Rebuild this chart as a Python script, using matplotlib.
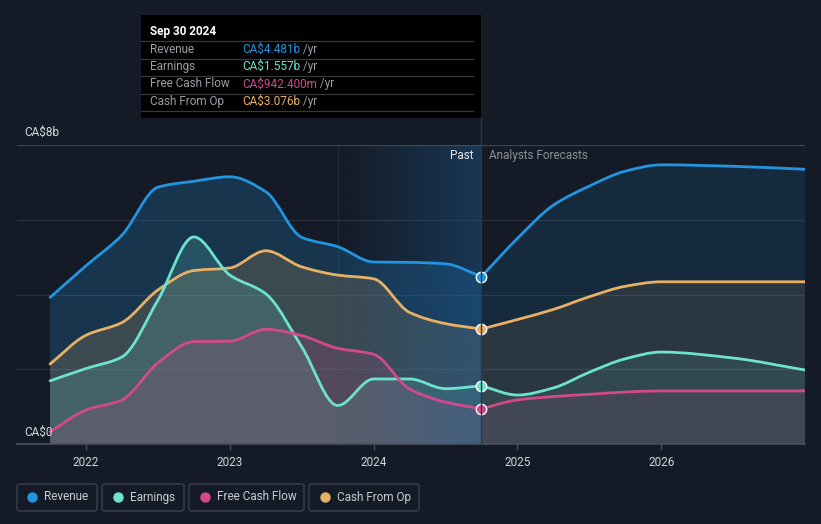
import matplotlib
matplotlib.use("Agg")
import matplotlib.pyplot as plt
import numpy as np
from matplotlib.patches import FancyBboxPatch, Rectangle, PathPatch
from matplotlib.path import Path
from matplotlib.lines import Line2D

# ---------------- data (CA$ billions) ----------------
past_t = [2021.75, 2022.0, 2022.25, 2022.5, 2022.75, 2023.0, 2023.25,
          2023.5, 2023.75, 2024.0, 2024.25, 2024.5, 2024.75]
fc_t = [2024.75, 2025.0, 2025.25, 2025.5, 2025.75, 2026.0, 2026.5, 2027.0]

revenue_past = [3.92, 4.77, 5.59, 6.87, 7.03, 7.15, 6.75, 5.53, 5.28, 4.87, 4.86, 4.82, 4.481]
revenue_fc = [4.481, 5.50, 6.39, 6.90, 7.30, 7.47, 7.43, 7.35]

earnings_past = [1.69, 2.02, 2.33, 3.85, 5.54, 4.52, 4.02, 2.60, 1.03, 1.74, 1.74, 1.48, 1.557]
earnings_fc = [1.557, 1.31, 1.50, 1.92, 2.28, 2.46, 2.30, 1.98]

fcf_past = [0.33, 0.91, 1.18, 2.17, 2.74, 2.75, 3.07, 2.90, 2.56, 2.40, 1.47, 1.12, 0.942]
fcf_fc = [0.942, 1.18, 1.27, 1.33, 1.39, 1.42, 1.42, 1.42]

cfo_past = [2.14, 2.91, 3.25, 4.12, 4.64, 4.71, 5.17, 4.74, 4.52, 4.42, 3.52, 3.22, 3.076]
cfo_fc = [3.076, 3.33, 3.60, 3.94, 4.22, 4.34, 4.34, 4.34]

year_ticks = [2022, 2023, 2024, 2025, 2026]
year_labels = ["2022", "2023", "2024", "2025", "2026"]

tooltip_date = "Sep 30 2024"
tooltip_rows = [("Revenue", "CA$4.481b"), ("Earnings", "CA$1.557b"),
                ("Free Cash Flow", "CA$942.400m"), ("Cash From Op", "CA$3.076b")]
legend_names = ["Revenue", "Earnings", "Free Cash Flow", "Cash From Op"]

# ---------------- style ----------------
BG = "#151b26"
C_REV = "#2394df"
C_EARN = "#6de3cc"
C_FCF = "#d4498a"
C_CFO = "#e8b064"
FONT = ["Roboto", "DejaVu Sans"]
plt.rcParams['font.family'] = FONT

W, H = 821, 524
fig = plt.figure(figsize=(W / 100, H / 100), dpi=100)
fig.patch.set_facecolor(BG)


def fx(px):
    return px / W


def fy(py):
    return 1 - py / H


def curve_vertices(x, y):
    """Bezier control points (monotone cubic tangents) through the data points."""
    x = np.asarray(x, float)
    y = np.asarray(y, float)
    n = len(x)
    h = np.diff(x)
    d = np.diff(y) / h
    m = np.zeros(n)
    m[0], m[-1] = d[0], d[-1]
    for i in range(1, n - 1):
        if d[i - 1] * d[i] <= 0:
            m[i] = 0.0
        else:
            w1 = 2 * h[i] + h[i - 1]
            w2 = h[i] + 2 * h[i - 1]
            m[i] = (w1 + w2) / (w1 / d[i - 1] + w2 / d[i])
    verts = [(x[0], y[0])]
    codes = [Path.MOVETO]
    for i in range(n - 1):
        verts += [(x[i] + h[i] / 3, y[i] + m[i] * h[i] / 3),
                  (x[i + 1] - h[i] / 3, y[i + 1] - m[i + 1] * h[i] / 3),
                  (x[i + 1], y[i + 1])]
        codes += [Path.CURVE4] * 3
    return verts, codes


def smooth_line(ax, x, y, color, lw=2.0, z=5):
    v, c = curve_vertices(x, y)
    ax.add_patch(PathPatch(Path(v, c), facecolor="none", edgecolor=color, lw=lw,
                           zorder=z, capstyle="round", joinstyle="round"))


def smooth_fill(ax, x, y, color, alpha, z=2):
    v, c = curve_vertices(x, y)
    v = [(x[0], 0)] + [(x[0], y[0])] + v[1:] + [(x[-1], 0), (x[0], 0)]
    c = [Path.MOVETO, Path.LINETO] + c[1:] + [Path.LINETO, Path.CLOSEPOLY]
    ax.add_patch(PathPatch(Path(v, c), facecolor=color, edgecolor="none", alpha=alpha, zorder=z))


ax = fig.add_axes([fx(17), fy(444), fx(805) - fx(17), fy(145) - fy(444)])
ax.set_facecolor(BG)
ax.set_xlim(2021.52, 2027.0)
ax.set_ylim(0, 8)
for s in ax.spines.values():
    s.set_visible(False)

# grid
for v in [2, 4, 6]:
    ax.axhline(v, color="#2b313c", lw=0.9, zorder=1)
ax.axhline(8, color="#3d434e", lw=1.0, zorder=1)
ax.axhline(0, color="#4a505b", lw=1.2, zorder=6, clip_on=False)

# fills
series = [
    (revenue_past, revenue_fc, C_REV, 0.22, 0.13),
    (cfo_past, cfo_fc, C_CFO, 0.17, 0.10),
    (earnings_past, earnings_fc, C_EARN, 0.17, 0.10),
    (fcf_past, fcf_fc, C_FCF, 0.16, 0.10),
]
for p, f, c, ap, af in series:
    smooth_fill(ax, past_t, p, c, ap)
    smooth_fill(ax, fc_t, f, c, af)

# past highlight gradient (last year before forecast)
grad = np.zeros((2, 256, 4))
grad[..., 0] = 30 / 255
grad[..., 1] = 100 / 255
grad[..., 2] = 160 / 255
grad[..., 3] = np.linspace(0.0, 0.38, 256)[None, :]
ax.imshow(grad, extent=[2023.75, 2024.75, 0, 8], aspect="auto",
          origin="lower", zorder=3, interpolation="bilinear")
ax.axvline(2023.75, color="#2a5a85", alpha=0.3, lw=0.8, zorder=3)

# lines
for p, f, c, _, _ in series:
    smooth_line(ax, past_t, p, c)
    smooth_line(ax, fc_t, f, c)
    ax.plot([past_t[-1]], [p[-1]], marker="o", ms=7.5, mfc=c, mec="white", mew=1.0, zorder=7)

# ticks
ax.set_xticks(year_ticks)
ax.set_xticklabels(year_labels)
ax.set_yticks([])
ax.tick_params(axis="x", colors="#4a505b", length=4, width=1, labelcolor="#d0d4da",
               labelsize=8.5, pad=5)

# vertical hover line
fig.add_artist(Line2D([fx(481), fx(481)], [fy(444), fy(118)], color="#1f3b58", lw=1.0, zorder=4))

# y labels
fig.text(fx(24), fy(132), "CA$8b", color="#d6d9de", fontsize=8.5, va="center", ha="left")
fig.text(fx(24), fy(432), "CA$0", color="#d6d9de", fontsize=8.5, va="center", ha="left")

# past / forecasts labels
fig.text(fx(473), fy(156), "Past", color="#e6e8eb", fontsize=8.5, va="center", ha="right")
fig.text(fx(489), fy(156), "Analysts Forecasts", color="#8b9098", fontsize=8.5, va="center", ha="left")

# tooltip
fig.add_artist(Rectangle((fx(141), fy(118)), fx(481) - fx(141), fy(15) - fy(118),
                         transform=fig.transFigure, facecolor="#000000", edgecolor="none", zorder=10))
fig.text(fx(150), fy(31), tooltip_date, color="white", fontsize=8.5, fontweight="bold",
         va="center", ha="left", zorder=11)
for yy in [41, 58.5, 76, 93.5, 111]:
    fig.add_artist(Line2D([fx(141), fx(473)], [fy(yy), fy(yy)], color="#383838", lw=0.9, zorder=11))
row_colors = [C_REV, C_EARN, C_FCF, C_CFO]
row_y = [49.5, 66.5, 84, 101]
for (lab, val), c, yy in zip(tooltip_rows, row_colors, row_y):
    fig.text(fx(150), fy(yy), lab, color="#9a9ea5", fontsize=8.5, va="center", ha="left", zorder=11)
    t = fig.text(fx(242), fy(yy), val, color=c, fontsize=8.5, va="center", ha="left", zorder=11)
    fig.canvas.draw()
    bb = t.get_window_extent()
    fig.text(bb.x1 / W, fy(yy), " /yr", color="#9a9ea5", fontsize=8.5, va="center", ha="left", zorder=11)

# legend
boxes = [(17, 97), (102, 184), (189, 304), (309, 419)]
dots = [32, 118, 205, 325]
texts = [44, 130, 217, 337]
for name, c, (x0, x1), dx, tx in zip(legend_names, row_colors, boxes, dots, texts):
    fig.add_artist(FancyBboxPatch((fx(x0), fy(511)), fx(x1) - fx(x0), fy(484) - fy(511),
                                  boxstyle="round,pad=0,rounding_size=0.004",
                                  transform=fig.transFigure, facecolor="none",
                                  edgecolor="#3b414c", lw=1.0))
    fig.add_artist(Line2D([fx(dx)], [fy(497)], marker="o", ms=6.5, color=c, mec=c, lw=0))
    fig.text(fx(tx), fy(497), name, color="#c9ccd2", fontsize=8.5, va="center", ha="left")

fig.savefig("out.png", dpi=100, facecolor=BG)
